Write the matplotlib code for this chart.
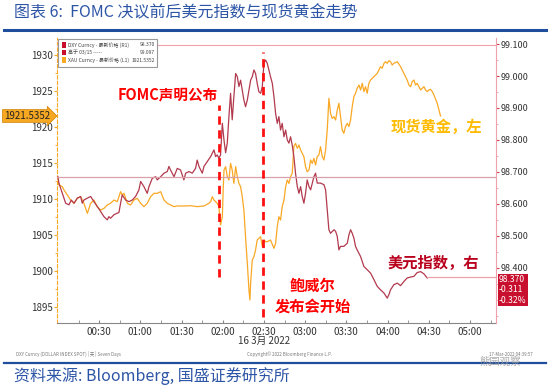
import numpy as np
import matplotlib.pyplot as plt
from matplotlib.patches import Rectangle

plt.rcParams['font.family'] = ['Noto Sans CJK SC', 'DejaVu Sans']

# minutes after 00:00 (16 Mar 2022) and DXY level
dxy_t = [0, 0.7, 3.2, 5.6, 8.0, 9.7, 11.7, 14.1, 16.5, 17.7, 18.9, 21.4, 23.8, 26.2, 28.6,
         31.1, 33.5, 35.9, 37.1, 38.3, 40.8, 43.2, 44.4, 45.6, 46.8, 49.3, 51.7, 54.1, 56.5,
         59.0, 60.2, 62.6, 65.0, 66.3, 68.7, 71.1, 72.3, 74.8, 77.2, 79.6, 80.8, 82.0, 84.5,
         86.9, 89.3, 91.7, 93.0, 95.4, 97.8, 100.2, 101.4, 102.7, 105.1, 106.3, 108.7, 111.2,
         113.6, 114.8, 116.0, 117.2, 118.4, 119.7, 120.9, 122.1, 123.3, 124.5, 125.7, 126.9,
         128.1, 129.4, 130.6, 131.8, 133.0, 134.2, 135.4, 136.6, 137.9, 139.1, 140.3, 141.5,
         142.7, 143.9, 145.1, 146.3, 147.6, 148.8, 150.0, 151.2, 152.4, 154.8, 156.1, 157.3,
         158.5, 159.7, 160.9, 162.1, 163.3, 164.6, 165.8, 167.0, 168.2, 169.4, 170.6, 171.8,
         173.0, 174.3, 175.5, 176.7, 177.9, 179.1, 180.3, 181.5, 182.8, 184.0, 186.4, 187.6,
         188.8, 191.2, 193.7, 194.9, 196.1, 197.3, 198.5, 201.0, 202.2, 203.4, 204.6, 205.8,
         208.2, 210.7, 211.9, 213.1, 214.3, 215.5, 216.7, 217.9, 220.4, 222.8, 225.2, 227.7,
         230.1, 232.5, 234.9, 237.4, 239.8, 241.0, 242.2, 244.6, 247.1, 249.5, 251.9, 254.3,
         256.8, 259.2, 261.6, 264.1, 266.5, 268.9]
dxy_v = [98.685, 98.665, 98.633, 98.602, 98.597, 98.612, 98.602, 98.618, 98.623, 98.602,
         98.612, 98.618, 98.623, 98.607, 98.592, 98.576, 98.560, 98.550, 98.560, 98.555,
         98.566, 98.571, 98.573, 98.602, 98.628, 98.612, 98.607, 98.612, 98.623, 98.644,
         98.670, 98.654, 98.633, 98.654, 98.680, 98.685, 98.675, 98.685, 98.696, 98.701,
         98.717, 98.706, 98.685, 98.711, 98.706, 98.675, 98.696, 98.701, 98.696, 98.711,
         98.737, 98.717, 98.696, 98.717, 98.732, 98.748, 98.769, 98.748, 98.753, 98.743,
         98.753, 98.852, 98.800, 98.760, 98.790, 98.873, 98.946, 98.863, 98.935, 99.008,
         98.998, 98.967, 98.987, 98.956, 98.925, 98.904, 98.925, 98.956, 98.987, 98.998,
         99.019, 99.008, 98.977, 98.951, 98.946, 98.967, 99.040, 99.050, 99.040, 98.998,
         98.977, 98.935, 98.883, 98.852, 98.873, 98.831, 98.852, 98.810, 98.831, 98.800,
         98.790, 98.810, 98.784, 98.748, 98.696, 98.654, 98.633, 98.654, 98.623, 98.602,
         98.633, 98.675, 98.654, 98.644, 98.685, 98.696, 98.665, 98.665, 98.660, 98.644,
         98.581, 98.519, 98.508, 98.519, 98.514, 98.498, 98.456, 98.467, 98.467, 98.477,
         98.503, 98.519, 98.508, 98.493, 98.467, 98.456, 98.435, 98.404, 98.394, 98.383,
         98.363, 98.342, 98.331, 98.321, 98.305, 98.316, 98.331, 98.347, 98.352, 98.344,
         98.357, 98.368, 98.371, 98.373, 98.385, 98.388, 98.381, 98.368]
dxy_last = 98.370
dxy_high = 99.097
dxy_ref = 98.684

# minutes after 00:00 and spot gold (XAU) price
gold_t = [0, 0.7, 3.2, 4.4, 6.8, 9.2, 11.7, 14.1, 16.5, 18.9, 21.4, 22.6, 23.8, 26.2, 28.6,
          31.1, 33.5, 35.9, 38.3, 40.8, 43.2, 45.6, 46.8, 48.1, 50.5, 52.9, 55.3, 57.8, 60.2,
          62.6, 65.0, 67.5, 69.9, 72.3, 74.8, 77.2, 79.6, 82.0, 84.5, 86.9, 91.7, 96.6, 101.4,
          106.3, 109.9, 111.2, 112.4, 113.6, 116.0, 117.2, 118.4, 119.7, 120.4, 120.9, 122.1,
          123.3, 124.5, 125.7, 126.9, 128.1, 129.4, 130.6, 131.8, 133.0, 134.2, 135.4, 136.6,
          137.9, 139.1, 139.8, 140.3, 141.5, 142.7, 143.9, 145.1, 146.3, 147.6, 148.8, 150.0,
          151.2, 152.4, 154.8, 157.3, 158.5, 159.7, 160.9, 162.1, 163.3, 164.6, 165.8, 167.0,
          168.2, 169.4, 170.6, 171.8, 173.0, 174.3, 175.5, 176.7, 179.1, 180.3, 181.5, 182.8,
          184.0, 185.2, 186.4, 187.6, 188.8, 190.0, 191.2, 192.5, 193.7, 194.9, 196.1, 197.3,
          198.5, 199.7, 201.0, 202.2, 203.4, 204.6, 205.8, 207.0, 208.2, 209.4, 210.7, 211.9,
          213.1, 214.3, 215.5, 216.7, 217.9, 219.2, 220.4, 221.6, 222.8, 224.0, 225.2, 226.4,
          227.7, 230.1, 232.5, 233.7, 234.9, 236.1, 237.4, 238.6, 239.8, 241.0, 242.2, 243.4,
          244.6, 247.1, 249.5, 251.9, 254.3, 255.6, 256.8, 258.0, 259.2, 260.4, 261.6, 264.1,
          265.3, 266.5, 267.7, 268.9, 270.1, 271.3, 272.6, 273.8, 276.2, 278.6]
gold_v = [1912.41, 1911.94, 1911.71, 1911.25, 1910.56, 1909.86, 1909.40, 1910.09, 1910.32,
          1909.40, 1908.01, 1908.70, 1909.40, 1909.86, 1908.94, 1908.47, 1908.70, 1909.17,
          1909.40, 1909.86, 1909.63, 1911.02, 1910.56, 1910.79, 1909.40, 1909.17, 1909.86,
          1910.09, 1909.40, 1908.94, 1909.40, 1910.32, 1910.79, 1910.79, 1911.02, 1909.86,
          1909.40, 1909.17, 1908.94, 1909.03, 1909.03, 1909.07, 1908.94, 1909.03, 1909.40,
          1909.63, 1910.32, 1909.86, 1909.40, 1908.94, 1906.39, 1907.54, 1911.71, 1914.02,
          1914.49, 1913.10, 1912.64, 1914.95, 1914.02, 1912.17, 1914.49, 1913.10, 1912.17,
          1911.71, 1910.32, 1908.47, 1904.76, 1901.06, 1897.36, 1895.97, 1898.29, 1901.53,
          1901.99, 1902.92, 1904.30, 1904.54, 1904.76, 1903.38, 1904.30, 1904.07, 1904.07,
          1904.30, 1903.15, 1903.84, 1906.16, 1907.54, 1907.08, 1908.94, 1909.86, 1911.71,
          1912.64, 1912.17, 1913.10, 1913.56, 1917.27, 1917.73, 1917.04, 1917.50, 1916.81,
          1915.88, 1914.49, 1913.79, 1914.02, 1915.42, 1914.95, 1915.65, 1914.72, 1915.88,
          1916.11, 1917.27, 1915.88, 1915.42, 1916.81, 1919.58, 1923.98, 1921.90, 1921.20,
          1921.43, 1920.97, 1922.36, 1923.29, 1921.43, 1919.58, 1919.12, 1920.05, 1920.51,
          1920.05, 1920.97, 1922.82, 1924.21, 1924.68, 1925.37, 1925.83, 1925.14, 1926.07,
          1924.91, 1925.60, 1924.68, 1926.07, 1926.53, 1926.99, 1927.45, 1927.92, 1928.38,
          1928.15, 1928.84, 1929.07, 1928.84, 1929.21, 1929.07, 1928.61, 1928.84, 1929.07,
          1928.38, 1927.45, 1926.53, 1925.83, 1925.60, 1926.30, 1926.53, 1925.83, 1926.07,
          1925.14, 1925.37, 1925.60, 1925.14, 1924.91, 1925.14, 1925.23, 1924.91, 1924.44,
          1923.29, 1921.5352]

x_ticks = [30, 60, 90, 120, 150, 180, 210, 240, 270, 300]
x_labels = ['00:30', '01:00', '01:30', '02:00', '02:30', '03:00', '03:30', '04:00', '04:30', '05:00']
gold_ticks = [1895, 1900, 1905, 1910, 1915, 1920, 1925, 1930]
dxy_ticks = [98.4, 98.5, 98.6, 98.7, 98.8, 98.9, 99.0, 99.1]
fomc_t = 117.5
powell_t = 149.5

W, H = 550, 386
fig = plt.figure(figsize=(5.5, 3.86), dpi=100)

def fx(x):
    return x / W

def fy(y):
    return 1 - y / H

blue = '#1f4e9c'
gold_c = '#f9a825'
dxy_c = '#b23a4e'
pink = '#efa0aa'

# title and rules
fig.text(fx(14), fy(13), '图表 6:  FOMC 决议前后美元指数与现货黄金走势', color='#2d55a6',
         fontsize=11.5, va='center', ha='left')
fig.add_artist(plt.Line2D([fx(4), fx(546)], [fy(30), fy(30)], color=blue, lw=2.2))
fig.add_artist(plt.Line2D([fx(4), fx(546)], [fy(363), fy(363)], color=blue, lw=1.6))
fig.text(fx(14), fy(376), '资料来源: Bloomberg, 国盛证券研究所', color='#2d55a6',
         fontsize=11.5, va='center', ha='left')

ax = fig.add_axes([fx(57), fy(323), (496 - 57) / W, (323 - 38) / H])
ax2 = ax.twinx()

ax.plot(gold_t, gold_v, color=gold_c, lw=0.9)
ax2.plot(dxy_t, dxy_v, color=dxy_c, lw=0.9)
ax2.plot([dxy_t[-1], 330], [dxy_last, dxy_last], color=pink, lw=0.9)
ax2.axhline(dxy_high, color=pink, lw=0.8)
ax2.axhline(dxy_ref, color='#d9a0aa', lw=0.9)

ax.set_xlim(-0.7, 319)
ax.set_ylim(1892.78, 1932.36)
ax2.set_ylim(98.2272, 99.119)

ax.set_xticks(x_ticks)
ax.set_xticklabels(x_labels)
ax.set_xticks(np.arange(15, 319, 30), minor=True)
ax.set_yticks(gold_ticks)
ax.set_yticks(np.arange(1895, 1932, 2.5), minor=True)
ax2.set_yticks(dxy_ticks)
ax2.set_yticklabels(['%.3f' % v for v in dxy_ticks])
ax2.set_yticks(np.arange(98.25, 99.12, 0.05), minor=True)

for s in ['top', 'right']:
    ax.spines[s].set_visible(False)
for s in ['top', 'left', 'bottom']:
    ax2.spines[s].set_visible(False)
ax.spines['left'].set_color(gold_c)
ax.spines['left'].set_linestyle((0, (3, 2)))
ax.spines['bottom'].set_color('#888888')
ax2.spines['right'].set_color(pink)

ax.tick_params(axis='x', which='both', direction='in', length=2.5, color='#888888',
               labelsize=7, labelcolor='#333333', pad=3)
ax.tick_params(axis='y', which='major', direction='out', length=2, color=gold_c,
               labelsize=7, labelcolor='#333333', pad=1)
ax.tick_params(axis='y', which='minor', direction='out', length=1.5, color=gold_c)
ax2.tick_params(axis='y', which='major', direction='out', length=2, color='#d04050',
                labelsize=6.5, labelcolor='#333333', pad=1)
ax2.tick_params(axis='y', which='minor', direction='out', length=1.5, color=pink)

ax2.axvline(fomc_t, ymin=0.161, ymax=0.765, color='#ff1010', lw=2, ls=(0, (3, 2)))
ax2.axvline(powell_t, ymin=0.021, ymax=0.951, color='#ff1010', lw=2, ls=(0, (3, 2)))

fig.text(fx(168), fy(94), 'FOMC声明公布', color='#ff0000', fontsize=10.5,
         fontweight='bold', ha='center', va='center')
fig.text(fx(313), fy(286), '鲍威尔', color='#ff0000', fontsize=11,
         fontweight='bold', ha='center', va='center')
fig.text(fx(313), fy(307), '发布会开始', color='#ff0000', fontsize=11,
         fontweight='bold', ha='center', va='center')
fig.text(fx(436), fy(127), '现货黄金，左', color='#ffbb00', fontsize=11,
         fontweight='bold', ha='center', va='center')
fig.text(fx(433), fy(263), '美元指数，右', color='#b8001c', fontsize=11,
         fontweight='bold', ha='center', va='center')

# legend box
fig.add_artist(Rectangle((fx(58), fy(67)), (157 - 58) / W, (67 - 39) / H,
                         fc='white', ec='#999999', lw=0.8))
leg_rows = [('DXY Curncy - 最新价格 (R1)', '98.370', '#c8102e'),
            ('高于 03/15 -----', '99.097', '#c8102e'),
            ('XAU Curncy - 最新价格 (L1)', '1921.5352', '#f7a823')]
for i, (lab, val, col) in enumerate(leg_rows):
    y = 45 + i * 7.5
    fig.add_artist(Rectangle((fx(62), fy(y + 2.5)), 4 / W, 5 / H, fc=col, ec='none'))
    fig.text(fx(68), fy(y), lab, fontsize=3.6, color='#444444', va='center', ha='left')
    fig.text(fx(155), fy(y), val, fontsize=3.6, color='#444444', va='center', ha='right')

# last value flags
fig.text(fx(27), fy(116), '1921.5352', fontsize=7, color='#222222', ha='center',
         va='center', bbox=dict(boxstyle='rarrow,pad=0.15', fc='#f7a823', ec='#d08000', lw=0.5))
fig.text(fx(499), fy(290), '98.370\n-0.311\n-0.32%', fontsize=6.2, color='white',
         ha='left', va='center', linespacing=1.2,
         bbox=dict(boxstyle='square,pad=0.15', fc='#c8102e', ec='none'))

fig.text(fx(264), fy(341), '16 3月 2022', fontsize=7, color='#333333', ha='center', va='center')

# footer
fig.text(fx(16), fy(354), 'DXY Curncy (DOLLAR INDEX SPOT) | 天 | Seven Days', fontsize=3.2,
         color='#777777', va='center')
fig.text(fx(290), fy(354), 'Copyright© 2022 Bloomberg Finance L.P.', fontsize=3.2,
         color='#777777', va='center', ha='center')
fig.text(fx(533), fy(354), '17-Mar-2022 04:39:57', fontsize=3.2, color='#777777',
         va='center', ha='right')
fig.text(fx(500), fy(362), '熊园观察', fontsize=7.5, color='#999999', va='center',
         ha='center', alpha=0.8)

fig.savefig('out.png', dpi=100)
